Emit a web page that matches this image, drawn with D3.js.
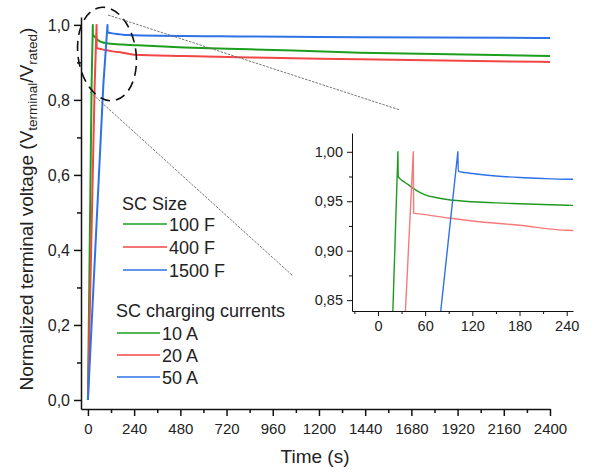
<!DOCTYPE html>
<html>
<head>
<meta charset="utf-8">
<script src="https://cdn.jsdelivr.net/npm/d3@7"></script>
<style>
  html, body { margin: 0; padding: 0; background: #fff; }
  svg { display: block; font-family: "Liberation Sans", Arial, sans-serif; }
</style>
</head>
<body>
<svg id="chart" width="599" height="474"></svg>
<script>
// Normalized SC terminal voltage during charge and rest, [time s, V/Vrated]
const series100F = [[0,0],[19,0.84],[25.4,1.0],[25.8,0.975],[30,0.9715],[38,0.967],[45,0.963],[52,0.9595],[60,0.9565],[75,0.9535],[90,0.9515],[120,0.9495],[150,0.9483],[180,0.9475],[240,0.946],[500,0.940],[841,0.935],[1413,0.926],[2400,0.917]];
const series400F = [[0,0],[35,0.84],[44.9,1.0],[45.4,0.938],[60,0.9365],[90,0.933],[120,0.930],[180,0.9257],[240,0.9206],[500,0.917],[841,0.913],[1413,0.9085],[2400,0.901]];
const series1500F = [[0,0],[80,0.84],[101.6,1.0],[102.2,0.9805],[110,0.9790],[120,0.978],[150,0.9755],[180,0.974],[210,0.973],[240,0.9723],[841,0.969],[1413,0.967],[2400,0.965]];

const seriesNames = ["100 F", "400 F", "1500 F"];
const currentNames = ["10 A", "20 A", "50 A"];
const seriesColors = ["#1e9e1e", "#f24646", "#2d72e6"];
const insetColors = ["#1e9a1e", "#f77a7a", "#2d72e6"];

const mainXTicks = [0,240,480,720,960,1200,1440,1680,1920,2160,2400];
const mainYTicks = [0,0.2,0.4,0.6,0.8,1.0];
const insetXTicks = [0,60,120,180,240];
const insetYTicks = [0.85,0.90,0.95,1.00];

const allSeries = [series100F, series400F, series1500F];

const svg = d3.select("#chart");
const FONT = "Liberation Sans, Arial, sans-serif";
const loc = d3.formatLocale({decimal: ",", thousands: "", grouping: [3], currency: ["", ""]});
const f1 = loc.format(".1f"), f2 = loc.format(".2f");

// Charging ramp is straight; the rest phase (from the peak on) is a smooth decay.
function pathFor(s, xs, ys) {
  const peak = d3.maxIndex(s, d => d[1]);
  const ramp = d3.line().x(d => xs(d[0])).y(d => ys(d[1]))(s.slice(0, peak + 1));
  const rest = d3.line().x(d => xs(d[0])).y(d => ys(d[1])).curve(d3.curveMonotoneX)(s.slice(peak));
  return ramp + "L" + rest.slice(1);
}

// ---------- main plot ----------
const x = d3.scaleLinear().domain([-36, 2400]).range([81, 550]);
const y = d3.scaleLinear().domain([-0.024, 1.021]).range([409, 17]);

allSeries.forEach((s, i) => {
  svg.append("path")
    .attr("d", pathFor(s, x, y))
    .attr("fill", "none")
    .attr("stroke", seriesColors[i])
    .attr("stroke-width", 2)
    .attr("stroke-linejoin", "round");
});

function styleAxis(g, w) {
  g.select(".domain").attr("stroke", "#111").attr("stroke-width", w);
  g.selectAll(".tick line").attr("stroke", "#111").attr("stroke-width", w);
}

// minor ticks
svg.append("g").attr("transform", "translate(0,409)")
  .call(d3.axisBottom(x).tickValues(d3.range(120, 2400, 240)).tickSize(4).tickFormat(""))
  .call(g => { styleAxis(g, 1.5); g.select(".domain").remove(); });
svg.append("g").attr("transform", "translate(81,0)")
  .call(d3.axisLeft(y).tickValues([0.1,0.3,0.5,0.7,0.9]).tickSize(4).tickFormat(""))
  .call(g => { styleAxis(g, 1.5); g.select(".domain").remove(); });

const xAxis = svg.append("g").attr("transform", "translate(0,409)")
  .call(d3.axisBottom(x).tickValues(mainXTicks).tickSize(7).tickSizeOuter(0).tickPadding(7).tickFormat(d3.format("d")))
  .call(g => styleAxis(g, 1.5));
xAxis.selectAll("text").attr("font-size", 15).attr("fill", "#222").attr("font-family", FONT);

const yAxis = svg.append("g").attr("transform", "translate(81,0)")
  .call(d3.axisLeft(y).tickValues(mainYTicks).tickSize(7).tickSizeOuter(0).tickPadding(4).tickFormat(f1))
  .call(g => styleAxis(g, 1.5));
yAxis.selectAll("text").attr("font-size", 16).attr("fill", "#222").attr("font-family", FONT);

// axis titles
svg.append("text").attr("x", 315).attr("y", 463).attr("text-anchor", "middle")
  .attr("font-size", 19).attr("fill", "#222").text("Time (s)");

const yt = svg.append("text").attr("transform", "translate(33,209) rotate(-90)")
  .attr("text-anchor", "middle").attr("font-size", 19).attr("fill", "#222");
yt.append("tspan").text("Normalized terminal voltage (V");
yt.append("tspan").attr("font-size", 13.5).attr("dy", 4).text("terminal");
yt.append("tspan").attr("dy", -4).text("/V");
yt.append("tspan").attr("font-size", 13.5).attr("dy", 4).text("rated");
yt.append("tspan").attr("dy", -4).text(")");

// ---------- legend ----------
const leg = svg.append("g").attr("font-size", 18).attr("fill", "#222");
leg.append("text").attr("x", 122).attr("y", 210).text("SC Size");
seriesNames.forEach((n, i) => {
  const yy = 224 + i * 23;
  leg.append("line").attr("x1", 123).attr("x2", 167).attr("y1", yy).attr("y2", yy)
    .attr("stroke", seriesColors[i]).attr("stroke-width", 1.6);
  leg.append("text").attr("x", 169).attr("y", yy + 6.5).text(n);
});
leg.append("text").attr("x", 116).attr("y", 317).text("SC charging currents");
currentNames.forEach((n, i) => {
  const yy = 333 + i * 22;
  leg.append("line").attr("x1", 117).attr("x2", 160).attr("y1", yy).attr("y2", yy)
    .attr("stroke", seriesColors[i]).attr("stroke-width", 1.6);
  leg.append("text").attr("x", 162).attr("y", yy + 6.5).text(n);
});

// ---------- zoom callout ----------
svg.append("ellipse").attr("cx", 107).attr("cy", 54).attr("rx", 29).attr("ry", 47)
  .attr("transform", "rotate(-8,107,54)")
  .attr("fill", "none").attr("stroke", "#111").attr("stroke-width", 1.6)
  .attr("stroke-dasharray", "10,6");
svg.append("line").attr("x1", 108).attr("y1", 15).attr("x2", 400).attr("y2", 110)
  .attr("stroke", "#666").attr("stroke-width", 0.9).attr("stroke-dasharray", "2.5,1.2");
svg.append("line").attr("x1", 90).attr("y1", 92).attr("x2", 293).attr("y2", 276)
  .attr("stroke", "#666").attr("stroke-width", 0.9).attr("stroke-dasharray", "2.5,1.2");

// ---------- inset ----------
const ix = d3.scaleLinear().domain([-33, 248]).range([352, 573]);
const iy = d3.scaleLinear().domain([0.839, 1.019]).range([311, 133]);

svg.append("clipPath").attr("id", "insetClip").append("rect")
  .attr("x", 352).attr("y", 133).attr("width", 221).attr("height", 178);

const ig = svg.append("g").attr("clip-path", "url(#insetClip)");
allSeries.forEach((s, i) => {
  ig.append("path")
    .attr("d", pathFor(s, ix, iy))
    .attr("fill", "none")
    .attr("stroke", insetColors[i])
    .attr("stroke-width", 1.4)
    .attr("stroke-linejoin", "round");
});

svg.append("g").attr("transform", "translate(0,311)")
  .call(d3.axisBottom(ix).tickValues([-30,30,90,150,210]).tickSize(3).tickFormat(""))
  .call(g => { styleAxis(g, 1); g.select(".domain").remove(); });
svg.append("g").attr("transform", "translate(352,0)")
  .call(d3.axisLeft(iy).tickValues([0.875,0.925,0.975]).tickSize(3).tickFormat(""))
  .call(g => { styleAxis(g, 1); g.select(".domain").remove(); });

const ixa = svg.append("g").attr("transform", "translate(0,311)")
  .call(d3.axisBottom(ix).tickValues(insetXTicks).tickSize(5).tickSizeOuter(0).tickPadding(5).tickFormat(d3.format("d")))
  .call(g => styleAxis(g, 1));
ixa.selectAll("text").attr("font-size", 14.5).attr("fill", "#222").attr("font-family", FONT);

const iya = svg.append("g").attr("transform", "translate(352,0)")
  .call(d3.axisLeft(iy).tickValues(insetYTicks).tickSize(5).tickSizeOuter(0).tickPadding(4).tickFormat(f2))
  .call(g => styleAxis(g, 1));
iya.selectAll("text").attr("font-size", 14.5).attr("fill", "#222").attr("font-family", FONT);
</script>
</body>
</html>
